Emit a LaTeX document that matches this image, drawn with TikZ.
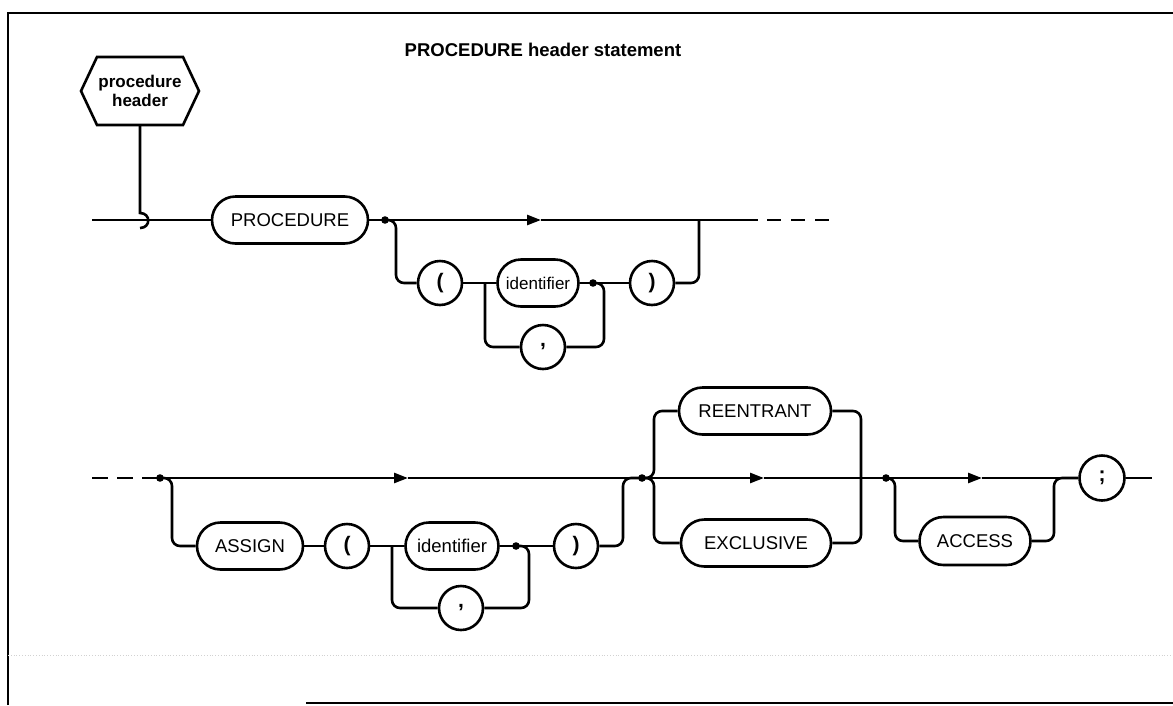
\documentclass[tikz,border=0pt]{standalone}
\usepackage{fontspec}
\setmainfont{Liberation Sans}
\usetikzlibrary{shapes.misc,arrows.meta}
\begin{document}
\begin{tikzpicture}[x=1pt,y=-1pt,
  lw/.style={line width=2.6pt},
  ln/.style={line width=2.6pt, rounded corners=8pt},
  term/.style={rounded rectangle, draw, line width=2.6pt, minimum height=47pt, inner sep=0pt, font=\fontsize{18.5}{20}\selectfont},
  sym/.style={circle, draw, line width=2.6pt, minimum size=44pt, inner sep=0pt, font=\bfseries\fontsize{21}{23}\selectfont},
  arr/.style={line width=2.6pt, -{Triangle[length=14pt,width=10pt]}},
  dashln/.style={line width=2.8pt, dash pattern=on 14pt off 10pt},
  frame/.style={line width=2.8pt}
]
\useasboundingbox (0,0) rectangle (1173,705);
% frame
\draw[frame] (8,705) -- (8,13) -- (1173,13);
\draw[frame] (306,703) -- (1173,703);
\draw[gray!35, line width=0.8pt, dotted] (8,655) -- (1173,655);

% title
\node[font=\bfseries\fontsize{18.5}{20}\selectfont] (title) at (543,50) {PROCEDURE header statement};

% hexagon entry
\node[font=\bfseries\fontsize{17}{18.5}\selectfont, align=center] (hex) at (140,91) {procedure\\header};
\draw[lw] (81,91) -- (97,57) -- (183,57) -- (199,91) -- (183,125) -- (97,125) -- cycle;
\coordinate (hexb) at (140,125);
\coordinate (hk1) at (140,213);
\coordinate (hk2) at (140,228);
\draw[lw] (hexb) -- (hk1) .. controls (151,213) and (151,228) .. (hk2);

% ---------- row 1 ----------
\coordinate (st1) at (92,220);
\node[term, minimum width=156pt] (proc) at (290,220) {PROCEDURE};
\coordinate (d1) at (385,220);
\coordinate (a1) at (541,220);
\coordinate (j1) at (699,220);
\coordinate (e1) at (758,220);
\coordinate (ds1) at (767,220);
\coordinate (de1) at (830,220);
\node[sym] (lp1) at (440,283) {(};
\coordinate (s1) at (485,283);
\node[term, minimum width=81pt, font=\fontsize{17}{19}\selectfont] (id1) at (538,283) {identifier};
\coordinate (d2) at (593,283);
\node[sym] (cm1) at (543,347) {,};
\node[sym] (rp1) at (652,283) {)};

\draw[lw] (st1) -- (proc.west);
\draw[lw] (proc.east) -- (d1);
\draw[arr] (d1) -- (a1);
\draw[lw] (a1) -- (e1);
\draw[dashln] (ds1) -- (de1);
\draw[ln] (d1) -- (396,220) -- (396,283) -- (lp1.west);
\draw[lw] (lp1.east) -- (s1) -- (id1.west);
\draw[lw] (id1.east) -- (d2) -- (rp1.west);
\draw[ln] (d2) -- (604,283) -- (604,347) -- (cm1.east);
\draw[ln] (cm1.west) -- (485,347) -- (s1);
\draw[ln] (rp1.east) -- (699,283) -- (j1);
\fill (d1) circle (3.8pt);
\fill (d2) circle (3.8pt);

% ---------- row 2 ----------
\coordinate (st2) at (92,478);
\coordinate (ds2) at (158,478);
\coordinate (d3) at (160,478);
\coordinate (a2) at (408,478);
\coordinate (d5) at (642,478);
\coordinate (a3) at (764,478);
\coordinate (j3) at (861,478);
\coordinate (d6) at (886,478);
\coordinate (a4) at (982,478);
\coordinate (e2) at (1152,478);

\node[term, minimum width=106pt] (asg) at (250,546) {ASSIGN};
\node[sym] (lp2) at (347,546) {(};
\coordinate (s2) at (392,546);
\node[term, minimum width=93pt] (id2) at (452,546) {identifier};
\coordinate (d4) at (516,546);
\node[sym] (cm2) at (461,608) {,};
\node[sym] (rp2) at (576,546) {)};
\node[term, minimum width=152pt] (reen) at (755,411) {REENTRANT};
\node[term, minimum width=150pt] (excl) at (756,543) {EXCLUSIVE};
\node[term, minimum width=111pt, minimum height=48pt] (acc) at (975,541) {ACCESS};
\node[sym, minimum size=45pt] (semi) at (1102,478) {;};

\draw[line width=2.8pt, dash pattern=on 16pt off 9pt] (st2) -- (ds2);
\draw[arr] (ds2) -- (a2);
\draw[lw] (a2) -- (d5);
\draw[ln] (d3) -- (172,478) -- (172,546) -- (asg.west);
\draw[lw] (asg.east) -- (lp2.west);
\draw[lw] (lp2.east) -- (s2) -- (id2.west);
\draw[lw] (id2.east) -- (d4) -- (rp2.west);
\draw[ln] (d4) -- (529,546) -- (529,608) -- (cm2.east);
\draw[ln] (cm2.west) -- (392,608) -- (s2);
\draw[ln] (rp2.east) -- (623,546) -- (623,478) -- (d5);

\draw[arr] (d5) -- (a3);
\draw[lw] (a3) -- (j3) -- (d6);
\draw[ln] (d5) -- (654,478) -- (654,411) -- (reen.west);
\draw[ln] (d5) -- (654,478) -- (654,543) -- (excl.west);
\draw[ln] (reen.east) -- (861,411) -- (j3);
\draw[ln] (excl.east) -- (861,543) -- (j3);

\draw[arr] (d6) -- (a4);
\draw[lw] (a4) -- (semi.west);
\draw[ln] (d6) -- (895,478) -- (895,541) -- (acc.west);
\draw[ln] (acc.east) -- (1054,541) -- (1054,478) -- (semi.west);
\draw[lw] (semi.east) -- (e2);
\fill (d3) circle (3.8pt);
\fill (d4) circle (3.8pt);
\fill (d5) circle (3.8pt);
\fill (d6) circle (3.8pt);
\end{tikzpicture}
\end{document}
